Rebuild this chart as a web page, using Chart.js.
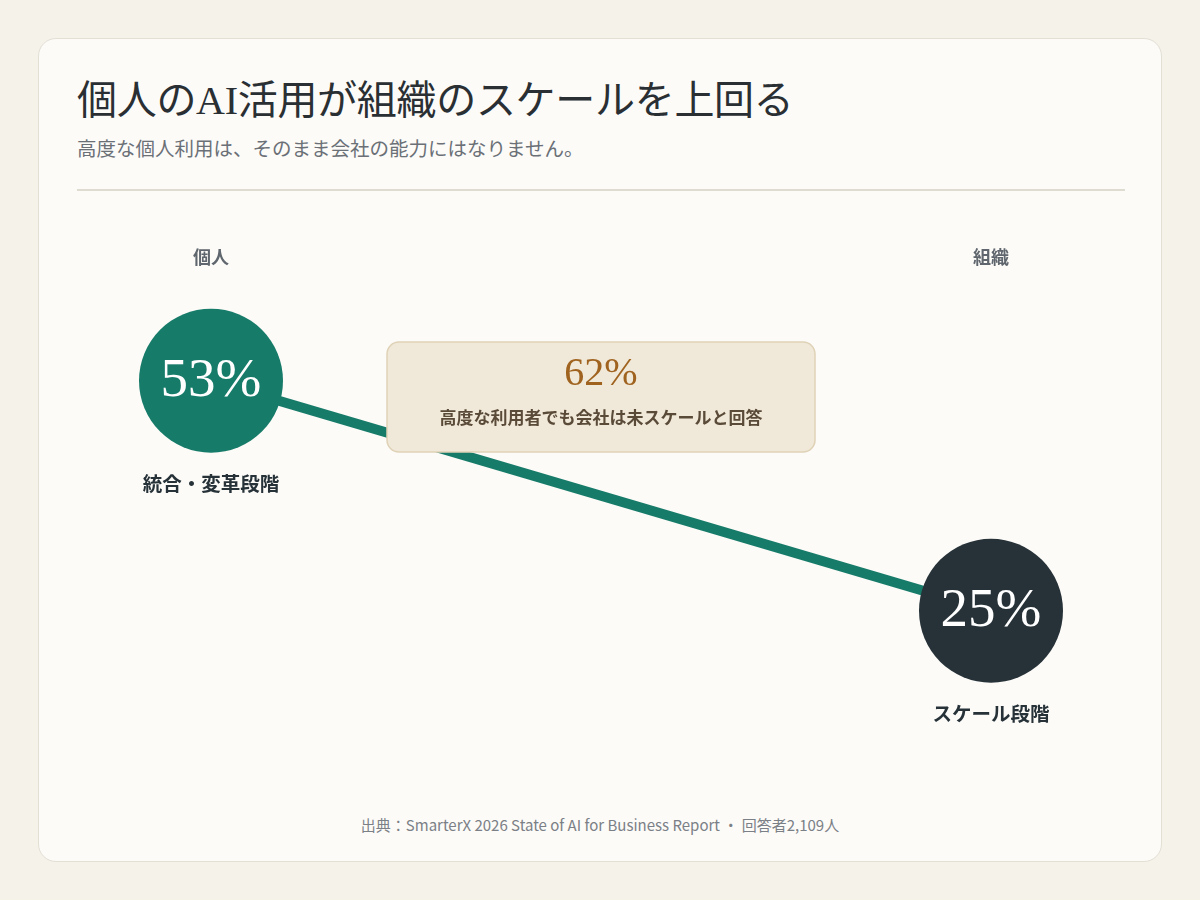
<!DOCTYPE html>
<html lang="ja">
<head>
<meta charset="utf-8">
<script src="https://cdn.jsdelivr.net/npm/chart.js@4/dist/chart.umd.min.js"></script>
<style>
  body{margin:0;background:#f5f2ea;width:1200px;height:900px;overflow:hidden;font-family:"Noto Sans CJK JP","Noto Sans",sans-serif}
  #card{position:absolute;left:38px;top:38px;width:1122px;height:822px;background:#fcfbf8;border:1px solid #e2dfd4;border-radius:18px}
  #title{position:absolute;left:38px;top:29px;margin:0;font-family:"Liberation Serif","Noto Sans CJK JP",serif;font-size:40px;font-weight:400;color:#2a2f33;letter-spacing:-0.3px;white-space:nowrap}
  #sub{position:absolute;left:38px;top:94px;margin:0;font-size:19.5px;color:#6b7077;white-space:nowrap}
  #rule{position:absolute;left:38px;top:150px;width:1048px;height:2px;background:#dedbd0}
  #wrap{position:absolute;left:38px;top:162px;width:1048px;height:580px}
  #foot{position:absolute;left:0;width:1122px;top:775px;text-align:center;font-size:15px;color:#7b8086}
</style>
</head>
<body>
<div id="card">
  <h1 id="title">個人のAI活用が組織のスケールを上回る</h1>
  <p id="sub">高度な個人利用は、そのまま会社の能力にはなりません。</p>
  <div id="rule"></div>
  <div id="wrap"><canvas id="myChart"></canvas></div>
  <div id="foot">出典：SmarterX 2026 State of AI for Business Report ・ 回答者2,109人</div>
</div>
<script>
// data
const columns = ["個人", "組織"]
const stages = ["統合・変革段階", "スケール段階"]
const values = [53, 25]
const pointColors = ["#177b69", "#263238"]
const calloutValue = 62
const calloutText = "高度な利用者でも会社は未スケールと回答"

const serif = '"Liberation Serif","DejaVu Serif",serif'
const sans = '"Noto Sans CJK JP","Noto Sans",sans-serif'

const labelsPlugin = {
  id: "slopeLabels",
  afterDatasetsDraw(chart) {
    const c = chart.ctx
    const xs = chart.scales.x, ys = chart.scales.y
    const area = chart.chartArea
    c.save()
    c.textAlign = "center"
    c.textBaseline = "middle"
    values.forEach((v, i) => {
      const x = xs.getPixelForValue(i)
      const y = ys.getPixelForValue(v)
      c.fillStyle = "#5f666d"
      c.font = "bold 18px " + sans
      c.fillText(columns[i], x, 56)
      c.fillStyle = "#ffffff"
      c.font = "55px " + serif
      c.fillText(v + "%", x, y + 1)
      c.fillStyle = "#263238"
      c.font = "bold 19.5px " + sans
      c.fillText(stages[i], x, y + 103)
    })
    // callout box
    const cx = (area.left + area.right) / 2
    const w = 428, h = 110, top = 141
    c.beginPath()
    c.roundRect(cx - w / 2, top, w, h, 12)
    c.fillStyle = "#f0e8d8"
    c.fill()
    c.lineWidth = 1.5
    c.strokeStyle = "#dfd2b6"
    c.stroke()
    c.fillStyle = "#a0631f"
    c.font = "40px " + serif
    c.fillText(calloutValue + "%", cx, top + 32)
    c.fillStyle = "#5a4a38"
    c.font = "bold 17px " + sans
    c.fillText(calloutText, cx, top + 76)
    c.restore()
  }
}

const ctx = document.getElementById("myChart")
let chart = new Chart(ctx, {
  type: "line",
  data: {
    labels: columns,
    datasets: [{
      data: values,
      borderColor: "#177b69",
      borderWidth: 10,
      pointRadius: 72,
      pointHoverRadius: 72,
      pointBorderWidth: 0,
      pointBackgroundColor: pointColors,
      tension: 0,
      clip: false
    }]
  },
  options: {
    responsive: true,
    maintainAspectRatio: false,
    animation: false,
    events: [],
    layout: { autoPadding: false, padding: { left: 134, right: 134, top: 40, bottom: 47 } },
    plugins: { legend: { display: false }, tooltip: { enabled: false } },
    scales: {
      x: { display: false, offset: false },
      y: { display: false, min: 10, max: 70 }
    }
  },
  plugins: [labelsPlugin]
})
</script>
</body>
</html>
